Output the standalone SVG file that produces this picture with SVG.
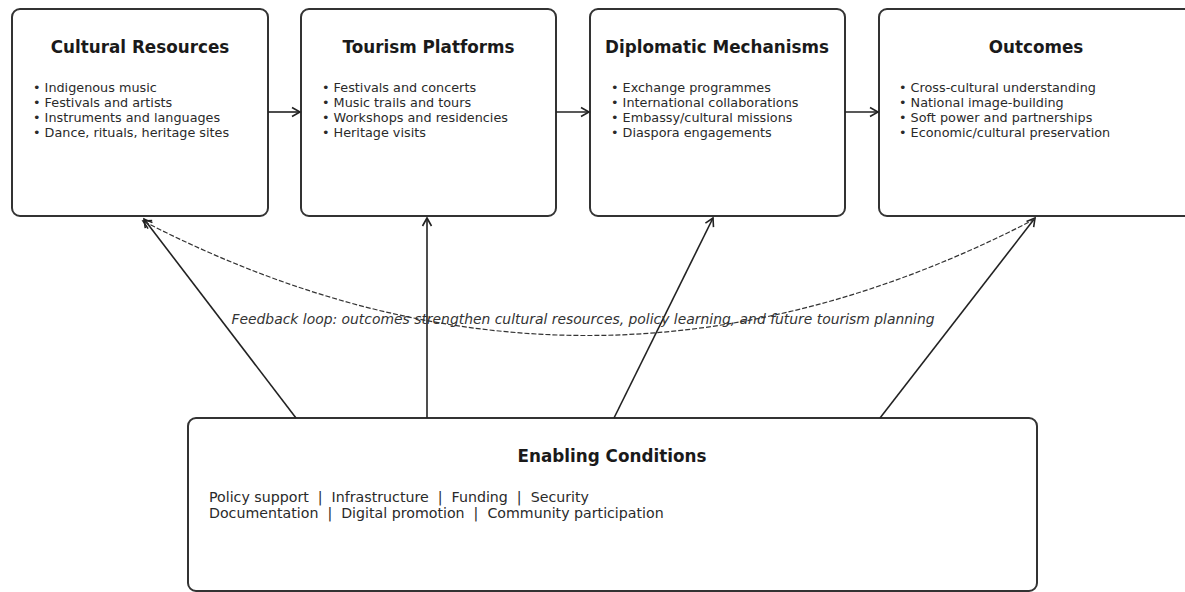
<svg xmlns="http://www.w3.org/2000/svg" width="1185" height="592" viewBox="0 0 1185 592">
<style>
.box{fill:#fff;stroke:#333;stroke-width:2}
.title{font-family:"DejaVu Sans",sans-serif;font-weight:bold;font-size:16.8px;fill:#1a1a1a;text-anchor:middle}
.item{font-family:"DejaVu Sans",sans-serif;font-size:12.8px;fill:#2a2a2a}
.cond{font-family:"DejaVu Sans",sans-serif;font-size:14.2px;fill:#2a2a2a}
.fb{font-family:"DejaVu Sans",sans-serif;font-style:italic;font-size:13.9px;fill:#333;text-anchor:middle}
.conn{fill:none;stroke:#222;stroke-width:1.6}
.dash{fill:none;stroke:#333;stroke-width:1.2;stroke-dasharray:5 2}
</style>
<defs>
<marker id="ah" markerWidth="12" markerHeight="12" refX="10" refY="6" orient="auto" markerUnits="userSpaceOnUse">
<path d="M2,1.5 L10,6 L2,10.5" fill="none" stroke="#222" stroke-width="1.6"/>
</marker>
</defs>
<rect width="1185" height="592" fill="#fff"/>
<g id="cultural-resources">
<rect class="box" x="12" y="9" width="256" height="207" rx="8"/>
<text class="title" x="140" y="53">Cultural Resources</text>
<text class="item" x="33" y="91.5">• Indigenous music</text>
<text class="item" x="33" y="106.8">• Festivals and artists</text>
<text class="item" x="33" y="122.1">• Instruments and languages</text>
<text class="item" x="33" y="137.4">• Dance, rituals, heritage sites</text>
</g>
<g id="tourism-platforms">
<rect class="box" x="301" y="9" width="255" height="207" rx="8"/>
<text class="title" x="428.5" y="53">Tourism Platforms</text>
<text class="item" x="322" y="91.5">• Festivals and concerts</text>
<text class="item" x="322" y="106.8">• Music trails and tours</text>
<text class="item" x="322" y="122.1">• Workshops and residencies</text>
<text class="item" x="322" y="137.4">• Heritage visits</text>
</g>
<g id="diplomatic-mechanisms">
<rect class="box" x="590" y="9" width="255" height="207" rx="8"/>
<text class="title" x="717" y="53">Diplomatic Mechanisms</text>
<text class="item" x="611" y="91.5">• Exchange programmes</text>
<text class="item" x="611" y="106.8">• International collaborations</text>
<text class="item" x="611" y="122.1">• Embassy/cultural missions</text>
<text class="item" x="611" y="137.4">• Diaspora engagements</text>
</g>
<g id="outcomes">
<rect class="box" x="879" y="9" width="316" height="207" rx="8"/>
<text class="title" x="1036" y="53">Outcomes</text>
<text class="item" x="899" y="91.5">• Cross-cultural understanding</text>
<text class="item" x="899" y="106.8">• National image-building</text>
<text class="item" x="899" y="122.1">• Soft power and partnerships</text>
<text class="item" x="899" y="137.4">• Economic/cultural preservation</text>
</g>
<g id="enabling-conditions">
<rect class="box" x="188" y="418" width="849" height="173" rx="8"/>
<text class="title" x="612" y="462">Enabling Conditions</text>
<text class="cond" x="209" y="502" xml:space="preserve">Policy support  |  Infrastructure  |  Funding  |  Security</text>
<text class="cond" x="209" y="518" xml:space="preserve">Documentation  |  Digital promotion  |  Community participation</text>
</g>
<g id="connectors">
<line class="conn" x1="268" y1="112" x2="300" y2="112" marker-end="url(#ah)"/>
<line class="conn" x1="556" y1="112" x2="589" y2="112" marker-end="url(#ah)"/>
<line class="conn" x1="845" y1="112" x2="878" y2="112" marker-end="url(#ah)"/>
<line class="conn" x1="296" y1="418" x2="144" y2="219" marker-end="url(#ah)"/>
<line class="conn" x1="427" y1="418" x2="427" y2="218" marker-end="url(#ah)"/>
<line class="conn" x1="614" y1="418" x2="713" y2="218" marker-end="url(#ah)"/>
<line class="conn" x1="880" y1="418" x2="1035" y2="218" marker-end="url(#ah)"/>
<path class="dash" d="M1035,219 Q589,451 143,221" marker-end="url(#ah)"/>
<text class="fb" x="583" y="324">Feedback loop: outcomes strengthen cultural resources, policy learning, and future tourism planning</text>
</g>
</svg>
